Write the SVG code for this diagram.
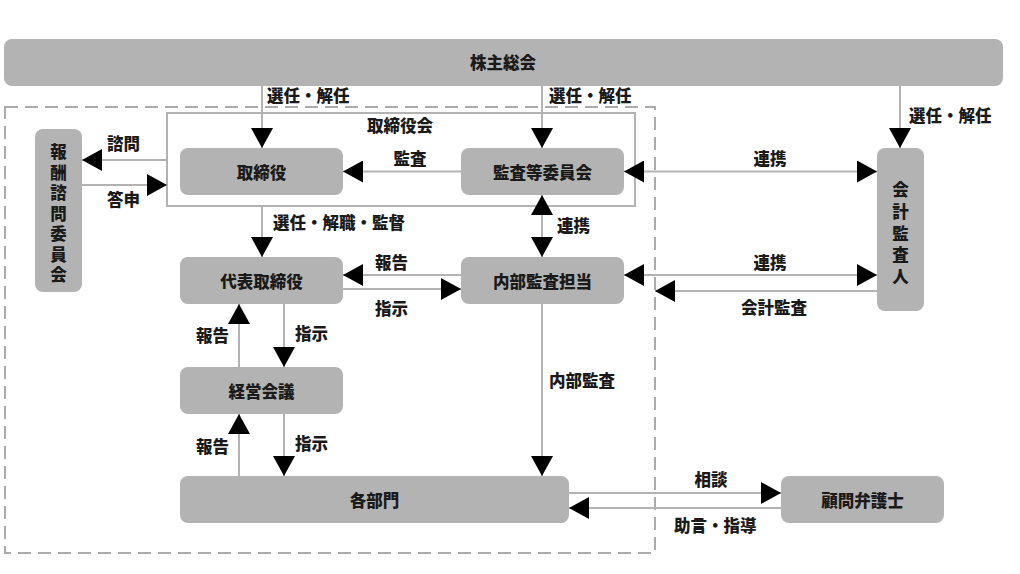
<svg xmlns="http://www.w3.org/2000/svg" width="1020" height="574" viewBox="0 0 1020 574">
<style>
.node{fill:#b3b3b3;}
.t{font-family:"Noto Sans CJK JP","Noto Sans CJK SC",sans-serif;font-weight:900;font-size:16.5px;fill:#1a1a1a;dominant-baseline:central;}
.c{text-anchor:middle;}
.v{writing-mode:vertical-rl;text-anchor:middle;}
.ln{stroke:#b3b3b3;stroke-width:2;fill:none;}
.e{marker-end:url(#ah);}
.s{marker-start:url(#ah);}
</style>
<defs>
<marker id="ah" viewBox="0 0 20 22" refX="20" refY="11" markerWidth="20" markerHeight="22" markerUnits="userSpaceOnUse" orient="auto-start-reverse">
<path d="M0,0 L20,11 L0,22 z" fill="#000"/>
</marker>
</defs>
<rect width="1020" height="574" fill="#fff"/>
<rect id="outer" x="5" y="107" width="650" height="446" fill="none" stroke="#ababab" stroke-width="2" stroke-dasharray="13 7"/>
<g id="board">
<rect x="167" y="113" width="468" height="93" fill="none" stroke="#b3b3b3" stroke-width="2"/>
<text class="t c" x="400" y="125">取締役会</text>
</g>
<g id="connectors">
<line class="ln e" x1="262" y1="86" x2="262" y2="148"/>
<line class="ln e" x1="542" y1="86" x2="542" y2="148"/>
<line class="ln e" x1="900" y1="86" x2="900" y2="148"/>
<line class="ln e" x1="461" y1="171.5" x2="343" y2="171.5"/>
<line class="ln e s" x1="624" y1="171.5" x2="877" y2="171.5"/>
<line class="ln e s" x1="542" y1="195" x2="542" y2="257"/>
<line class="ln e" x1="262" y1="206" x2="262" y2="257"/>
<line class="ln e" x1="461" y1="275" x2="343" y2="275"/>
<line class="ln e" x1="343" y1="289" x2="461" y2="289"/>
<line class="ln e s" x1="624" y1="275" x2="877" y2="275"/>
<line class="ln e" x1="877" y1="291" x2="655" y2="291"/>
<line class="ln e" x1="284" y1="304" x2="284" y2="367"/>
<line class="ln e" x1="239" y1="367" x2="239" y2="304"/>
<line class="ln e" x1="239" y1="476" x2="239" y2="414"/>
<line class="ln e" x1="284" y1="414" x2="284" y2="476"/>
<line class="ln e" x1="542" y1="304" x2="542" y2="476"/>
<line class="ln e" x1="167" y1="160" x2="82" y2="160"/>
<line class="ln e" x1="82" y1="185" x2="167" y2="185"/>
<line class="ln e" x1="569" y1="493" x2="781" y2="493"/>
<line class="ln e" x1="781" y1="508" x2="569" y2="508"/>
<text class="t" x="267" y="95">選任・解任</text>
<text class="t" x="549" y="95">選任・解任</text>
<text class="t" x="909" y="115">選任・解任</text>
<text class="t c" x="410" y="158">監査</text>
<text class="t c" x="770" y="158">連携</text>
<text class="t" x="557" y="225">連携</text>
<text class="t" x="273" y="222">選任・解職・監督</text>
<text class="t" x="375" y="262">報告</text>
<text class="t" x="375" y="308">指示</text>
<text class="t c" x="770" y="262">連携</text>
<text class="t c" x="774" y="307">会計監査</text>
<text class="t" x="196" y="335">報告</text>
<text class="t" x="295" y="333">指示</text>
<text class="t" x="196" y="446">報告</text>
<text class="t" x="295" y="443">指示</text>
<text class="t" x="549" y="380">内部監査</text>
<text class="t" x="107" y="143">諮問</text>
<text class="t" x="107" y="199">答申</text>
<text class="t c" x="711" y="479">相談</text>
<text class="t" x="674" y="525">助言・指導</text>
</g>
<g id="n-shareholders">
<rect class="node" x="4" y="39" width="999" height="47" rx="8"/>
<text class="t c" x="503" y="62">株主総会</text>
</g>
<g id="n-directors">
<rect class="node" x="180" y="148" width="163" height="47" rx="8"/>
<text class="t c" x="261.5" y="171.5">取締役</text>
</g>
<g id="n-audit-committee">
<rect class="node" x="461" y="148" width="163" height="47" rx="8"/>
<text class="t c" x="542.5" y="171.5">監査等委員会</text>
</g>
<g id="n-compensation">
<rect class="node" x="35" y="129" width="47" height="163" rx="8"/>
<text class="t v" x="58.5" y="215.5" letter-spacing="4">報酬諮問委員会</text>
</g>
<g id="n-accounting-auditor">
<rect class="node" x="877" y="148" width="47" height="163" rx="8"/>
<text class="t v" x="900.5" y="236" letter-spacing="5.2">会計監査人</text>
</g>
<g id="n-representative">
<rect class="node" x="180" y="257" width="163" height="47" rx="8"/>
<text class="t c" x="261.5" y="280.5">代表取締役</text>
</g>
<g id="n-internal-audit">
<rect class="node" x="461" y="257" width="163" height="47" rx="8"/>
<text class="t c" x="542.5" y="280.5">内部監査担当</text>
</g>
<g id="n-management">
<rect class="node" x="180" y="367" width="163" height="47" rx="8"/>
<text class="t c" x="261.5" y="390.5">経営会議</text>
</g>
<g id="n-departments">
<rect class="node" x="180" y="476" width="389" height="47" rx="8"/>
<text class="t c" x="374.5" y="499.5">各部門</text>
</g>
<g id="n-lawyer">
<rect class="node" x="781" y="476" width="163" height="47" rx="8"/>
<text class="t c" x="862.5" y="499.5">顧問弁護士</text>
</g>
</svg>
